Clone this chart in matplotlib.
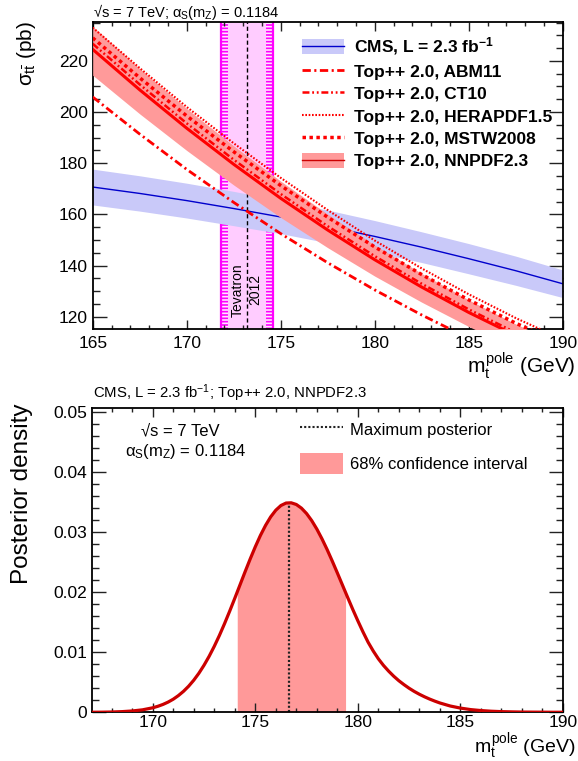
import numpy as np
import matplotlib
matplotlib.use("Agg")
import matplotlib.pyplot as plt
from matplotlib.lines import Line2D
from matplotlib.patches import Patch
from matplotlib.ticker import MultipleLocator, FuncFormatter

plt.rcParams["font.family"] = ["Liberation Sans", "DejaVu Sans"]
plt.rcParams["mathtext.fontset"] = "custom"
plt.rcParams["mathtext.rm"] = "Liberation Sans"
plt.rcParams["mathtext.it"] = "Liberation Sans"
plt.rcParams["mathtext.bf"] = "Liberation Sans:bold"
plt.rcParams["mathtext.sf"] = "Liberation Sans"
plt.rcParams["lines.scale_dashes"] = False
plt.rcParams["hatch.linewidth"] = 1.2

# ---- top panel: cross section vs top pole mass ----
mass = [165, 167.5, 170, 172.5, 175, 177.5, 180, 182.5, 185, 187.5, 190]
cms_xs = [170.7, 168.2, 165.4, 162.3, 159.0, 155.3, 151.4, 147.2, 142.7, 138.0, 132.9]
cms_up = [177.7, 175.1, 172.2, 169.0, 165.5, 161.7, 157.6, 153.2, 148.6, 143.7, 138.3]
cms_lo = [163.7, 161.3, 158.6, 155.6, 152.5, 148.9, 145.2, 141.2, 136.8, 132.3, 127.5]
abm11 = [205.9, 191.4, 177.6, 164.7, 152.5, 141.1, 130.5, 120.7, 111.6, 103.3, 95.8]
ct10 = [226.7, 210.8, 195.6, 181.4, 168.0, 155.4, 143.7, 132.9, 122.9, 113.8, 105.5]
herapdf = [233.0, 217.2, 202.0, 187.8, 174.3, 161.7, 149.8, 138.9, 128.8, 119.5, 111.1]
mstw = [229.0, 213.4, 198.5, 184.5, 171.3, 158.9, 147.3, 136.5, 126.6, 117.5, 109.2]
nnpdf = [224.5, 208.7, 193.7, 179.6, 166.3, 153.9, 142.3, 131.6, 121.7, 112.7, 104.5]
nnpdf_up = [233.5, 217.0, 201.4, 186.8, 173.0, 160.1, 148.0, 136.9, 126.6, 117.2, 108.7]
nnpdf_lo = [214.4, 199.3, 185.0, 171.5, 158.8, 147.0, 135.9, 125.7, 116.2, 107.6, 99.8]

tev_center = 173.2
tev_inner = (172.2, 174.2)
tev_outer = (171.8, 174.6)

# ---- bottom panel: posterior density ----
# coarse steps in the tails, finer steps around the peak
post_mass = np.concatenate([np.arange(167.0, 169.9, 0.5),
                            np.arange(170.0, 184.01, 0.25),
                            np.arange(184.5, 190.01, 0.5)])
post_density = [
    0.00001, 0.00002, 0.00005, 0.00011, 0.00022, 0.00041,
    0.00075, 0.00100, 0.00131, 0.00170, 0.00218, 0.00278, 0.00349, 0.00434,
    0.00534, 0.00650, 0.00783, 0.00932, 0.01098, 0.01279, 0.01475, 0.01682,
    0.01897, 0.02117, 0.02337, 0.02551, 0.02755, 0.02944, 0.03111, 0.03253,
    0.03364, 0.03442, 0.03483, 0.03487, 0.03459, 0.03398, 0.03308, 0.03191,
    0.03050, 0.02888, 0.02710, 0.02519, 0.02320, 0.02117, 0.01914, 0.01714,
    0.01522, 0.01338, 0.01166, 0.01020, 0.00890, 0.00780, 0.00685, 0.00600,
    0.00525, 0.00460, 0.00400, 0.00347, 0.00300, 0.00258, 0.00220, 0.00186,
    0.00155,
    0.00105, 0.00070, 0.00045, 0.00029, 0.00018, 0.00011, 0.00007, 0.00004,
    0.00003, 0.00002, 0.00001, 0.00001]
post_peak_mass = 176.65
post_peak = 0.0349
ci_low, ci_high = 174.12, 179.40

RED = "#ff0000"
PINK = "#ff9a9a"
LAV = "#c9c9f9"
BLUE = "#0000cc"
MAGENTA = "#ff00ff"

W, H = 578, 761
fig = plt.figure(figsize=(W / 100, H / 100), dpi=100)


def style_axes(ax, ymajor, yminor):
    ax.xaxis.set_major_locator(MultipleLocator(5))
    ax.xaxis.set_minor_locator(MultipleLocator(1))
    ax.yaxis.set_major_locator(MultipleLocator(ymajor))
    ax.yaxis.set_minor_locator(MultipleLocator(yminor))
    ax.tick_params(which="both", direction="in", top=True, right=True,
                   labelsize=12.5, width=1, color="#222222")
    ax.tick_params(axis="y", which="major", length=10, pad=3.5)
    ax.tick_params(axis="y", which="minor", length=5)
    ax.tick_params(axis="x", which="major", length=6.7, pad=5)
    ax.tick_params(axis="x", which="minor", length=3.2)
    for sp in ax.spines.values():
        sp.set_linewidth(1.3)


# ===================== top panel =====================
ax1 = fig.add_axes([92.7 / W, 1 - 329.3 / H, 470 / W, 307.3 / H])
ax1.set_xlim(165, 190)
ax1.set_ylim(115.1, 235.2)
style_axes(ax1, 20, 5)

# Tevatron band with hatched edges
ax1.axvspan(tev_outer[0], tev_outer[1], color="#ffccff", lw=0, zorder=1)
ax1.axvspan(tev_outer[0], tev_inner[0], facecolor="#ffe6ff", edgecolor=MAGENTA,
            hatch="-----", lw=0, zorder=1.1)
ax1.axvspan(tev_inner[1], tev_outer[1], facecolor="#ffe6ff", edgecolor=MAGENTA,
            hatch="-----", lw=0, zorder=1.1)
for xv in tev_outer:
    ax1.axvline(xv, color=MAGENTA, lw=1.6, zorder=1.2)
ax1.text(tev_center, 130.5, "Tevatron\n2012", rotation=90, ha="center",
         va="center", multialignment="center", fontsize=10, linespacing=1.3,
         zorder=1.3)

# CMS measurement
ax1.fill_between(mass, cms_lo, cms_up, color=LAV, lw=0, zorder=2)
ax1.plot(mass, cms_xs, color=BLUE, lw=1.0, zorder=2.1)
ax1.axvline(tev_center, color="black", lw=1.0, dashes=(3, 2), zorder=2.2)

# Top++ predictions
ax1.fill_between(mass, nnpdf_lo, nnpdf_up, color=PINK, lw=0, zorder=3)
ax1.plot(mass, abm11, color=RED, lw=2, dashes=(6, 2.5, 1.5, 2.5), zorder=4)
ax1.plot(mass, ct10, color=RED, lw=1.8, dashes=(5, 2, 1.3, 2, 1.3, 2), zorder=4)
ax1.plot(mass, herapdf, color=RED, lw=1.5, dashes=(1.2, 1.2), zorder=4)
ax1.plot(mass, mstw, color=RED, lw=2.5, dashes=(2.5, 2.5), zorder=4)
ax1.plot(mass, nnpdf, color=RED, lw=2.2, zorder=4.1)

handles = [
    (Patch(facecolor=LAV, lw=0), Line2D([], [], color=BLUE, lw=1.0)),
    Line2D([], [], color=RED, lw=2, dashes=(6, 2.5, 1.5, 2.5)),
    Line2D([], [], color=RED, lw=1.8, dashes=(5, 2, 1.3, 2, 1.3, 2)),
    Line2D([], [], color=RED, lw=1.5, dashes=(1.2, 1.2)),
    Line2D([], [], color=RED, lw=2.5, dashes=(2.5, 2.5)),
    (Patch(facecolor=PINK, lw=0), Line2D([], [], color="#cc0000", lw=1.0)),
]
labels = [r"CMS, L = 2.3 fb$^{\mathbf{-1}}$", "Top++ 2.0, ABM11",
          "Top++ 2.0, CT10", "Top++ 2.0, HERAPDF1.5",
          "Top++ 2.0, MSTW2008", "Top++ 2.0, NNPDF2.3"]
ax1.legend(handles, labels, loc="upper left",
           bbox_to_anchor=(301.7 / W, 1 - 35.5 / H),
           bbox_transform=fig.transFigure, frameon=False,
           prop={"weight": "bold", "size": 12.5}, borderpad=0,
           borderaxespad=0, handlelength=2.42, handleheight=0.96,
           handletextpad=0.58, labelspacing=0.34)

fig.text(93 / W, 1 - 12 / H, r"√s = 7 TeV; $\alpha_{S}(m_{Z})$ = 0.1184",
         fontsize=10.5, ha="left", va="center")
fig.text(27 / W, 1 - 21 / H, r"$\sigma_{t\bar{t}}$ (pb)", rotation=90,
         fontsize=15, ha="center", va="top")
fig.text(576 / W, 1 - 366 / H, r"$m_{t}^{pole}$ (GeV)", fontsize=15,
         ha="right", va="center")

# ===================== bottom panel =====================
ax2 = fig.add_axes([92 / W, 1 - 712.3 / H, 471 / W, 304.6 / H])
ax2.set_xlim(167.04, 190)
ax2.set_ylim(0, 0.0507)
style_axes(ax2, 0.01, 0.002)
ax2.tick_params(axis="x", which="major", pad=2)
ax2.yaxis.set_major_formatter(FuncFormatter(lambda v, p: "0" if abs(v) < 1e-9 else f"{v:.2f}"))

inside = (post_mass > ci_low) & (post_mass < ci_high)
band_x = np.concatenate([[ci_low], post_mass[inside], [ci_high]])
band_y = np.interp(band_x, post_mass, post_density)
ax2.fill_between(band_x, 0, band_y, color="#ff9999", lw=0, zorder=1)
ax2.plot(post_mass, post_density, color="#cc0000", lw=2.3, zorder=3,
         solid_joinstyle="round")
ax2.plot([post_peak_mass, post_peak_mass], [0, post_peak], color="#222222",
         lw=1.6, dashes=(1.5, 1.5), zorder=2)

h2 = [Line2D([], [], color="#222222", lw=1.5, dashes=(1.5, 1.5)),
      Patch(facecolor="#ff9999", lw=0)]
ax2.legend(h2, ["Maximum posterior", "68% confidence interval"],
           loc="upper left", bbox_to_anchor=(300 / W, 1 - 419 / H),
           bbox_transform=fig.transFigure, frameon=False,
           prop={"size": 12}, borderpad=0, borderaxespad=0,
           handlelength=2.58, handleheight=1.6, handletextpad=0.45,
           labelspacing=0.75)

ax2.text(0.187, 0.923, "√s = 7 TeV", transform=ax2.transAxes, fontsize=12,
         ha="center", va="center")
ax2.text(0.2, 0.855, r"$\alpha_{S}(m_{Z})$ = 0.1184", transform=ax2.transAxes,
         fontsize=12, ha="center", va="center")

fig.text(93 / W, 1 - 393 / H,
         r"CMS, L = 2.3 fb$^{-1}$; Top++ 2.0, NNPDF2.3",
         fontsize=10.7, ha="left", va="center")
fig.text(22 / W, 1 - 403 / H, "Posterior density", rotation=90,
         fontsize=17.5, ha="center", va="top")
fig.text(576 / W, 1 - 746.5 / H, r"$m_{t}^{pole}$ (GeV)", fontsize=14,
         ha="right", va="center")

fig.savefig("out.png", dpi=100)
